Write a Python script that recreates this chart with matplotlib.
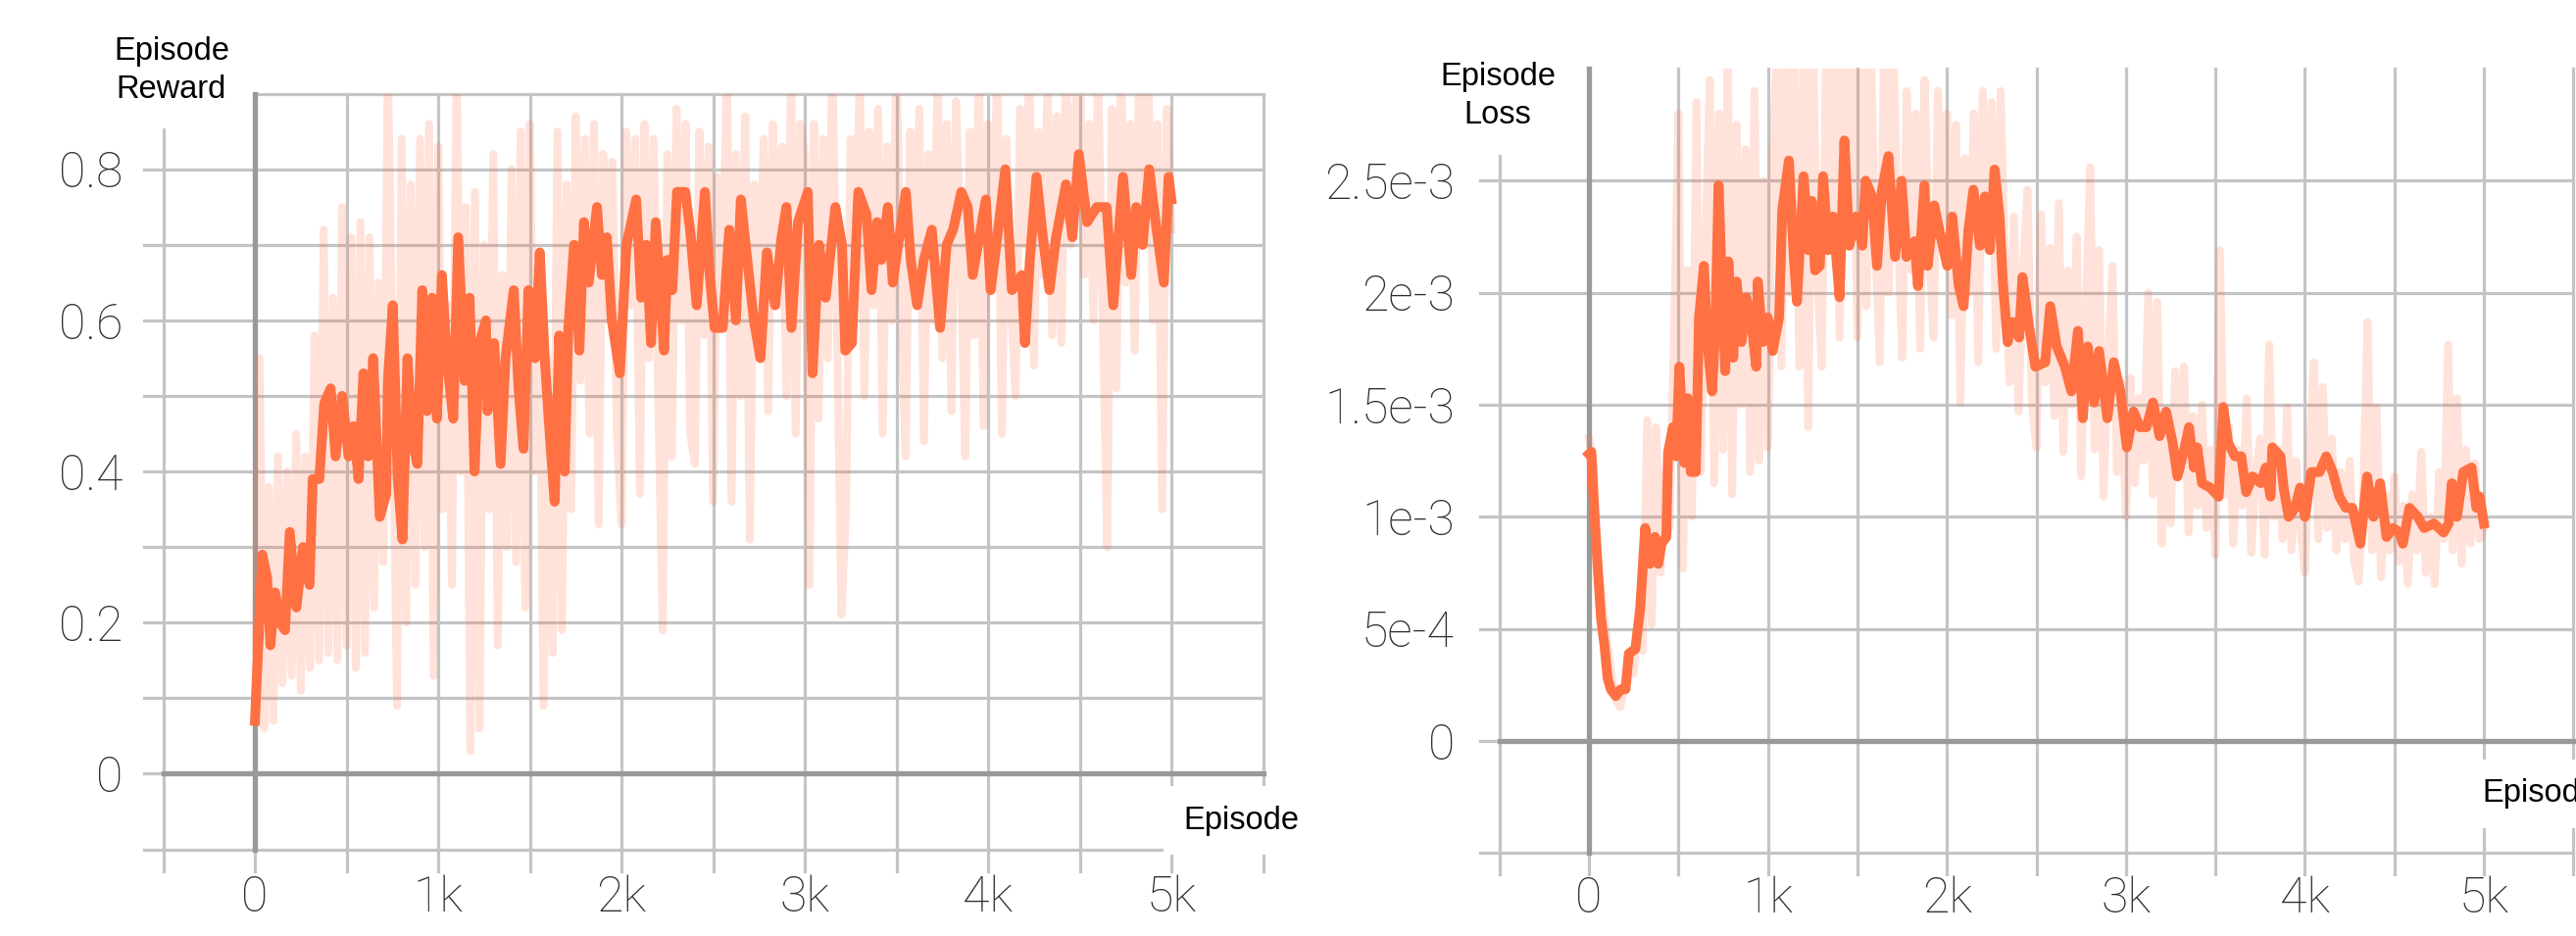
import numpy as np
import matplotlib
matplotlib.use("Agg")
import matplotlib.pyplot as plt

# ---- dados ----
raw_ep = list(range(0, 5001, 25))

reward_raw = [
    0.07, 0.55, 0.06, 0.38, 0.07, 0.42, 0.12, 0.40, 0.13, 0.45, 0.11, 0.42, 0.14, 0.58, 0.15, 0.72, 0.16, 0.63, 0.15, 0.75,
    0.17, 0.71, 0.14, 0.73, 0.16, 0.71, 0.22, 0.65, 0.28, 0.95, 0.55, 0.09, 0.84, 0.20, 0.78, 0.25, 0.84, 0.30, 0.86, 0.13,
    0.83, 0.35, 0.62, 0.25, 0.95, 0.40, 0.75, 0.03, 0.77, 0.06, 0.70, 0.35, 0.82, 0.17, 0.66, 0.30, 0.80, 0.28, 0.85, 0.22,
    0.86, 0.40, 0.62, 0.09, 0.55, 0.16, 0.85, 0.19, 0.78, 0.35, 0.87, 0.52, 0.84, 0.45, 0.86, 0.33, 0.82, 0.60, 0.81, 0.45,
    0.33, 0.85, 0.62, 0.84, 0.37, 0.86, 0.55, 0.84, 0.50, 0.19, 0.82, 0.42, 0.88, 0.60, 0.86, 0.45, 0.41, 0.85, 0.58, 0.83,
    0.36, 0.79, 0.60, 0.95, 0.36, 0.82, 0.50, 0.87, 0.31, 0.78, 0.55, 0.84, 0.48, 0.86, 0.62, 0.83, 0.50, 0.93, 0.45, 0.86,
    0.82, 0.25, 0.86, 0.47, 0.84, 0.55, 0.95, 0.60, 0.21, 0.35, 0.84, 0.70, 0.92, 0.50, 0.85, 0.62, 0.88, 0.45, 0.83, 0.60,
    0.95, 0.62, 0.42, 0.85, 0.65, 0.88, 0.44, 0.82, 0.60, 0.93, 0.55, 0.86, 0.48, 0.89, 0.70, 0.42, 0.85, 0.58, 0.95, 0.46,
    0.86, 0.64, 0.95, 0.45, 0.84, 0.62, 0.50, 0.88, 0.70, 0.95, 0.54, 0.85, 0.66, 0.92, 0.58, 0.87, 0.57, 0.95, 0.70, 0.88,
    0.95, 0.66, 0.86, 0.60, 0.93, 0.62, 0.30, 0.88, 0.51, 0.95, 0.65, 0.86, 0.56, 0.95, 0.70, 0.92, 0.60, 0.86, 0.35, 0.88,
    0.72,
]

reward_smooth_ep = [
    0, 40, 66, 84, 110, 137, 164, 190, 226, 262, 298, 315, 351, 378, 413, 440, 476, 511, 538, 565,
    592, 618, 645, 681, 716, 725, 752, 779, 805, 832, 859, 886, 913, 939, 966, 993, 1020, 1046, 1082, 1109,
    1144, 1171, 1198, 1225, 1260, 1269, 1305, 1340, 1367, 1412, 1438, 1465, 1492, 1528, 1554, 1581, 1608, 1635, 1660, 1690,
    1710, 1741, 1770, 1795, 1821, 1866, 1893, 1920, 1947, 1991, 2027, 2080, 2107, 2134, 2161, 2187, 2232, 2250, 2277, 2303,
    2348, 2374, 2410, 2455, 2481, 2508, 2552, 2588, 2624, 2651, 2686, 2722, 2758, 2793, 2838, 2873, 2900, 2927, 2963, 3016,
    3042, 3078, 3114, 3167, 3203, 3221, 3257, 3292, 3337, 3364, 3395, 3417, 3453, 3480, 3515, 3551, 3578, 3613, 3649, 3693,
    3738, 3774, 3809, 3854, 3889, 3916, 3952, 3988, 4014, 4050, 4094, 4130, 4184, 4201, 4228, 4264, 4299, 4335, 4371, 4425,
    4460, 4495, 4540, 4593, 4647, 4683, 4736, 4781, 4808, 4843, 4879, 4914, 4959, 4985, 5000,
]
reward_smooth = [
    0.07, 0.29, 0.26, 0.17, 0.24, 0.20, 0.19, 0.32, 0.22, 0.30, 0.25, 0.39, 0.39, 0.49, 0.51, 0.42, 0.50, 0.42, 0.46, 0.39,
    0.53, 0.42, 0.55, 0.34, 0.37, 0.52, 0.62, 0.39, 0.31, 0.55, 0.44, 0.41, 0.64, 0.48, 0.63, 0.47, 0.66, 0.55, 0.47, 0.71,
    0.52, 0.63, 0.40, 0.57, 0.60, 0.48, 0.57, 0.41, 0.55, 0.64, 0.51, 0.43, 0.64, 0.55, 0.69, 0.55, 0.45, 0.36, 0.58, 0.40,
    0.59, 0.70, 0.56, 0.73, 0.65, 0.75, 0.66, 0.71, 0.60, 0.53, 0.70, 0.76, 0.63, 0.70, 0.57, 0.73, 0.56, 0.68, 0.64, 0.77,
    0.77, 0.72, 0.62, 0.77, 0.66, 0.59, 0.59, 0.72, 0.60, 0.76, 0.68, 0.60, 0.55, 0.69, 0.62, 0.71, 0.75, 0.59, 0.73, 0.77,
    0.53, 0.70, 0.63, 0.75, 0.70, 0.56, 0.57, 0.77, 0.74, 0.64, 0.73, 0.68, 0.75, 0.65, 0.71, 0.77, 0.68, 0.62, 0.68, 0.72,
    0.59, 0.70, 0.72, 0.77, 0.75, 0.66, 0.71, 0.76, 0.64, 0.71, 0.80, 0.64, 0.66, 0.57, 0.68, 0.79, 0.71, 0.64, 0.71, 0.78,
    0.71, 0.82, 0.73, 0.75, 0.75, 0.62, 0.79, 0.66, 0.75, 0.70, 0.80, 0.73, 0.65, 0.79, 0.76,
]

# loss em unidades de 1e-3
loss_raw = [
    1.35, 1.25, 0.80, 0.62, 0.45, 0.30, 0.18, 0.15, 0.25, 0.35, 0.30, 0.55, 0.40, 1.43, 0.52, 1.40, 0.75, 1.20, 0.95, 1.83,
    2.80, 0.77, 2.10, 1.00, 2.85, 1.20, 2.20, 2.95, 1.15, 2.80, 1.30, 3.10, 1.10, 2.75, 1.50, 2.64, 1.20, 2.90, 1.25, 2.50,
    1.31, 2.60, 3.10, 1.67, 3.20, 2.00, 3.10, 1.67, 3.00, 1.40, 3.20, 2.10, 1.67, 3.10, 2.20, 3.30, 1.80, 3.20, 2.30, 3.10,
    1.80, 3.20, 1.94, 3.10, 2.20, 1.69, 3.20, 2.00, 3.10, 2.30, 1.71, 2.90, 2.10, 2.80, 1.75, 2.95, 2.20, 1.80, 2.90, 2.30,
    2.80, 1.90, 2.75, 1.51, 2.60, 2.00, 2.80, 1.69, 2.90, 2.20, 2.85, 1.75, 2.90, 2.10, 1.60, 2.34, 1.47, 2.10, 2.46, 1.50,
    1.31, 2.35, 1.60, 2.20, 1.45, 2.40, 1.29, 2.10, 1.50, 2.25, 1.18, 1.90, 2.56, 1.30, 2.19, 1.09, 1.70, 2.12, 1.20, 1.60,
    1.00, 1.62, 1.15, 1.53, 1.25, 2.00, 1.10, 1.96, 0.88, 1.40, 0.97, 1.65, 1.20, 1.67, 0.93, 1.45, 1.05, 1.50, 0.95, 1.30,
    0.83, 2.19, 1.10, 1.40, 0.88, 1.30, 1.05, 1.53, 0.84, 1.20, 1.35, 0.83, 1.77, 1.00, 1.30, 0.90, 1.49, 0.85, 1.25, 0.95,
    0.75, 1.30, 1.69, 0.90, 1.58, 0.95, 1.35, 0.85, 1.20, 0.90, 1.25, 0.80, 0.71, 1.10, 1.87, 0.85, 1.49, 0.73, 1.10, 0.85,
    1.18, 0.80, 1.05, 0.70, 1.10, 0.85, 1.29, 0.75, 1.00, 0.70, 1.20, 0.90, 1.77, 0.85, 1.53, 0.79, 1.30, 0.88, 1.24, 0.90,
    0.95,
]

loss_smooth_ep = [
    0, 13, 31, 49, 67, 86, 104, 122, 150, 177, 204, 223, 259, 286, 314, 341, 369, 387, 405, 432,
    442, 469, 487, 505, 533, 551, 569, 597, 615, 642, 661, 688, 706, 724, 743, 761, 779, 806, 825, 852,
    879, 907, 934, 943, 971, 998, 1026, 1062, 1080, 1117, 1144, 1162, 1199, 1226, 1245, 1263, 1290, 1308, 1336, 1363,
    1400, 1427, 1454, 1491, 1527, 1546, 1582, 1609, 1637, 1673, 1710, 1746, 1774, 1819, 1838, 1874, 1892, 1929, 1965, 2002,
    2029, 2066, 2093, 2120, 2148, 2184, 2212, 2239, 2266, 2294, 2312, 2339, 2367, 2403, 2422, 2458, 2494, 2549, 2577, 2613,
    2659, 2695, 2732, 2759, 2787, 2823, 2850, 2896, 2932, 2969, 3005, 3042, 3078, 3115, 3151, 3188, 3224, 3261, 3288, 3334,
    3352, 3380, 3398, 3425, 3471, 3518, 3544, 3571, 3609, 3644, 3672, 3708, 3754, 3781, 3808, 3818, 3863, 3881, 3909, 3945,
    3973, 4000, 4036, 4082, 4119, 4155, 4192, 4228, 4265, 4310, 4347, 4383, 4420, 4456, 4493, 4529, 4547, 4584, 4630, 4666,
    4721, 4775, 4803, 4821, 4849, 4885, 4931, 4958, 4976, 5000,
]
loss_smooth = [
    1.28, 1.29, 1.00, 0.77, 0.55, 0.43, 0.28, 0.23, 0.20, 0.23, 0.23, 0.39, 0.41, 0.59, 0.95, 0.79, 0.91, 0.79, 0.88, 0.91,
    1.29, 1.40, 1.27, 1.67, 1.24, 1.53, 1.20, 1.20, 1.89, 2.12, 1.78, 1.56, 1.85, 2.48, 2.03, 1.65, 2.14, 1.71, 2.05, 1.78,
    1.98, 1.87, 1.67, 2.05, 1.78, 1.89, 1.74, 1.89, 2.37, 2.59, 2.16, 1.96, 2.52, 2.19, 2.41, 2.10, 2.12, 2.52, 2.19, 2.34,
    1.98, 2.68, 2.21, 2.34, 2.21, 2.50, 2.43, 2.12, 2.46, 2.61, 2.16, 2.50, 2.16, 2.23, 2.03, 2.48, 2.12, 2.39, 2.25, 2.12,
    2.34, 2.03, 1.94, 2.28, 2.46, 2.21, 2.43, 2.19, 2.55, 2.34, 2.05, 1.78, 1.87, 1.80, 2.07, 1.85, 1.67, 1.69, 1.94, 1.76,
    1.67, 1.56, 1.83, 1.44, 1.76, 1.51, 1.74, 1.44, 1.69, 1.56, 1.31, 1.47, 1.40, 1.40, 1.51, 1.36, 1.47, 1.33, 1.18, 1.33,
    1.40, 1.22, 1.31, 1.15, 1.13, 1.09, 1.49, 1.33, 1.27, 1.27, 1.11, 1.18, 1.15, 1.22, 1.09, 1.31, 1.27, 1.13, 1.00, 1.04,
    1.13, 1.00, 1.20, 1.20, 1.27, 1.20, 1.09, 1.04, 1.04, 0.88, 1.18, 1.00, 1.15, 0.91, 0.95, 0.93, 0.88, 1.04, 1.00, 0.95,
    0.97, 0.93, 0.97, 1.15, 1.00, 1.20, 1.22, 1.04, 1.09, 0.97,
]

x_ticks = [0, 1000, 2000, 3000, 4000, 5000]
x_labels = ["0", "1k", "2k", "3k", "4k", "5k"]
reward_ticks = [0, 0.2, 0.4, 0.6, 0.8]
reward_labels = ["0", "0.2", "0.4", "0.6", "0.8"]
loss_ticks = [0, 5e-4, 1e-3, 1.5e-3, 2e-3, 2.5e-3]
loss_labels = ["0", "5e-4", "1e-3", "1.5e-3", "2e-3", "2.5e-3"]

# ---- estilo ----
COR_LINHA = "#ff7043"
COR_GRADE = "#c4c4c4"
COR_ZERO = "#999999"
FONTE_TICK = "Roboto"
FONTE_ROTULO = "Liberation Sans"


def desenhar_painel(ax, ep_raw, raw, ep_s, suave, ylim, grade_y, yticks, ylabels,
                    topo_esq, linha_topo, ypad, xpad):
    ax.set_xlim(-500, 5500)
    ax.set_ylim(*ylim)
    for s in ax.spines.values():
        s.set_visible(False)

    ext_x = 20 / (ax.get_position().width * 2628)
    ext_y = 22 / (ax.get_position().height * 955)
    faixa = ylim[1] - ylim[0]

    # grade horizontal, com pequena extensao a esquerda
    for y in grade_y:
        if y == 0:
            ax.axhline(y, xmin=-ext_x, xmax=0.0, color=COR_GRADE, lw=2.3, clip_on=False, zorder=1)
            ax.axhline(y, xmin=0.0, xmax=1.0, color=COR_ZERO, lw=3.8, clip_on=False, zorder=1.5)
        else:
            ax.axhline(y, xmin=-ext_x, xmax=1.0, color=COR_GRADE, lw=2.3, clip_on=False, zorder=1)
    if linha_topo:
        ax.axhline(ylim[1], xmin=500 / 6000, xmax=1.0, color=COR_GRADE, lw=2.3, clip_on=False, zorder=1)

    # grade vertical, com extensao para baixo
    for x in range(-500, 5501, 500):
        if x == -500:
            ax.axvline(x, ymin=-ext_y, ymax=(topo_esq - ylim[0]) / faixa, color=COR_GRADE, lw=2.3,
                       clip_on=False, zorder=1)
        elif x == 0:
            ax.axvline(x, ymin=-ext_y, ymax=0.0, color=COR_GRADE, lw=2.3, clip_on=False, zorder=1)
            ax.axvline(x, ymin=0.0, ymax=1.0, color=COR_ZERO, lw=3.8, clip_on=False, zorder=1.5)
        else:
            ax.axvline(x, ymin=-ext_y, ymax=1.0, color=COR_GRADE, lw=2.3, clip_on=False, zorder=1)

    ax.plot(ep_raw, raw, color=COR_LINHA, alpha=0.2, lw=5.8, zorder=2)
    ax.plot(ep_s, suave, color=COR_LINHA, lw=7.2, zorder=3)

    ax.set_xticks(x_ticks)
    ax.set_xticklabels(x_labels)
    ax.set_yticks(yticks)
    ax.set_yticklabels(ylabels)
    ax.tick_params(axis="both", length=0, labelcolor="#2e2e2e", labelsize=36)
    ax.tick_params(axis="y", pad=ypad)
    ax.tick_params(axis="x", pad=xpad)
    for lab in ax.get_xticklabels() + ax.get_yticklabels():
        lab.set_fontfamily(FONTE_TICK)
        lab.set_fontweight("light")


fig = plt.figure(figsize=(26.28, 9.55), dpi=100)
fig.patch.set_facecolor("white")

ax1 = fig.add_axes([0.0634, 0.0926, 0.4269, 0.8073])
ax2 = fig.add_axes([0.5821, 0.0888, 0.4169, 0.8378])

desenhar_painel(ax1, raw_ep, reward_raw, reward_smooth_ep, reward_smooth,
                (-0.1, 0.9), np.round(np.arange(-0.1, 0.85, 0.1), 2), reward_ticks, reward_labels,
                topo_esq=0.853, linha_topo=True, ypad=30, xpad=19)

desenhar_painel(ax2, raw_ep, np.array(loss_raw) * 1e-3, loss_smooth_ep, np.array(loss_smooth) * 1e-3,
                (-5e-4, 3e-3), [-5e-4, 0, 5e-4, 1e-3, 1.5e-3, 2e-3, 2.5e-3], loss_ticks, loss_labels,
                topo_esq=2.61e-3, linha_topo=False, ypad=33, xpad=17)

# rotulos dos eixos
fig.text(175 / 2628, 1 - 72 / 955, "Episode\nReward", ha="center", va="center",
         fontsize=23.5, family=FONTE_ROTULO, linespacing=1.32, color="black")
fig.text(1528 / 2628, 1 - 98 / 955, "Episode\nLoss", ha="center", va="center",
         fontsize=23.5, family=FONTE_ROTULO, linespacing=1.32, color="black")

caixa = dict(facecolor="white", edgecolor="none", pad=14)
ax1.text(5064, -0.062, "Episode", ha="left", va="center", fontsize=23.5, family=FONTE_ROTULO,
         color="black", bbox=caixa, zorder=10, clip_on=False)
ax2.text(4989, -2.36e-4, "Episode", ha="left", va="center", fontsize=23.5, family=FONTE_ROTULO,
         color="black", bbox=caixa, zorder=10, clip_on=False)

fig.savefig("out.png", dpi=100, facecolor="white")
